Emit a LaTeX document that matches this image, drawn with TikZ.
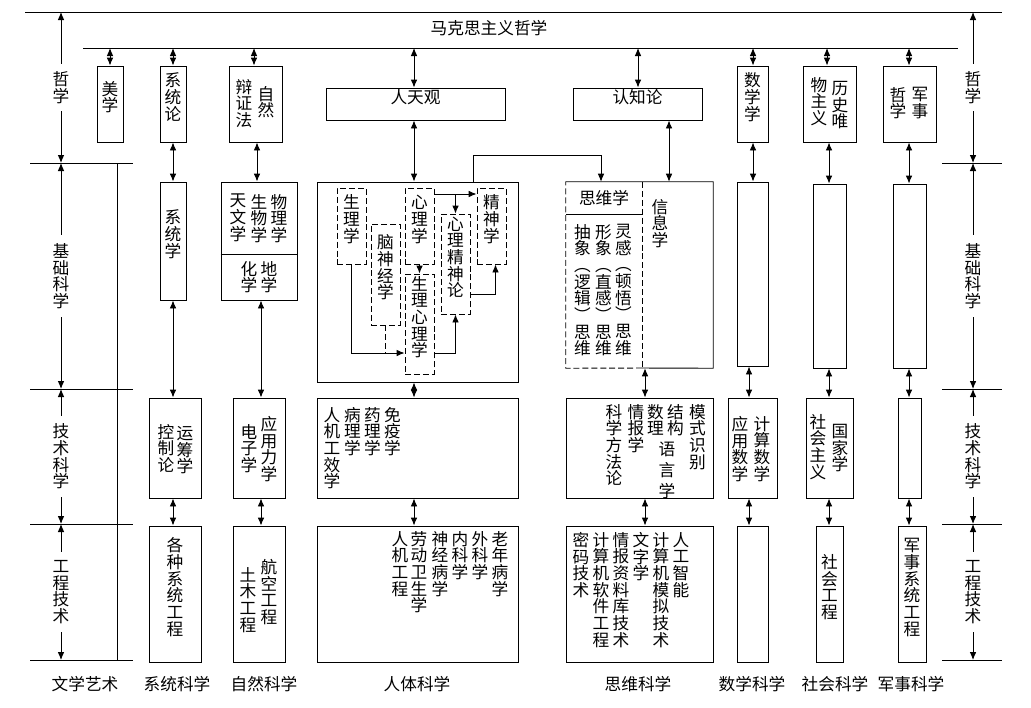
\documentclass[tikz,border=0pt]{standalone}
\usepackage{fontspec}
\setmainfont{Noto Sans CJK SC}
\usetikzlibrary{arrows.meta,fit,positioning}
\makeatletter
\newcommand{\vtext}[1]{\vt@a#1\vt@end}
\def\vt@a#1#2\vt@end{#1\ifx\relax#2\relax\else\\\vt@a#2\vt@end\fi}
\makeatother
\newcommand{\vtx}[1]{\expandafter\vtext\expandafter{#1}}
\newcommand{\zhfont}{\fontsize{12.5}{12.5}\selectfont\lineskiplimit=-20pt}
\tikzset{
  >={Latex[length=6pt,width=5pt]},
  rule/.style={line width=0.7pt},
  dline/.style={line width=0.7pt, dash pattern=on 4.5pt off 2.2pt},
  box/.style={draw, line width=0.7pt, inner sep=0pt},
  dbox/.style={box, dash pattern=on 4.5pt off 2.2pt},
  txt/.style={font=\zhfont, align=center, inner sep=0pt},
  col/.style={txt, anchor=north},
  axl/.style={txt, fill=white, inner xsep=2pt, inner ysep=6pt},
  flow/.style={->, line width=0.7pt},
  dflow/.style={<->, line width=0.7pt},
}
\begin{document}
\begin{tikzpicture}[x=0.75pt,y=-0.75pt]
\useasboundingbox (0,0) rectangle (1031,707);
% frame lines
\draw[rule] (25,12) -- (1002,12);
\node[txt] (mks) at (489,28) {马克思主义哲学};
\draw[rule] (83,48) -- (958,48);
\coordinate (bar) at (0,48);
\foreach \y in {163,389,524,660}{
  \draw[rule] (30,\y) -- (133,\y);
  \draw[rule] (942,\y) -- (1002,\y);
}
\draw[rule] (117,163) -- (117,660);
% side axes
\foreach \s/\x in {L/61,R/973}{
  \foreach \i/\y in {0/12,1/163,2/389,3/524,4/660}{\coordinate (\s\i) at (\x,\y);}
  \draw[dflow] (\s0) -- (\s1) node[axl,midway] (\s a) {\vtext{哲学}};
  \draw[dflow] (\s1) -- (\s2) node[axl,midway] (\s b) {\vtext{基础科学}};
  \draw[dflow] (\s2) -- (\s3) node[axl,midway] (\s c) {\vtext{技术科学}};
  \draw[dflow] (\s3) -- (\s4) node[axl,midway] (\s d) {\vtext{工程技术}};
}
% row 1: bridges
\node[box,txt,fit={(97,66)(123,142)}] (mx1) {\vtext{美学}};
\node[box,txt,fit={(160,66)(186,142)}] (xt1) {\vtext{系统论}};
\node[box,fit={(229,66)(282,142)}] (bz1) {};
\node[col] (bz1a) at (244,79) {\vtext{辩证法}};
\node[col] (bz1b) at (266,86) {\vtext{自然}};
\node[box,txt,fit={(326,88)(505,120)}] (rt1) {人天观};
\node[box,txt,fit={(573,88)(702,120)}] (rz1) {认知论};
\node[box,txt,fit={(737,66)(768,142)}] (sx1) {\vtext{数学学}};
\node[box,fit={(803,66)(856,142)}] (ls1) {};
\node[col] (ls1a) at (819,77) {\vtext{物主义}};
\node[col] (ls1b) at (840,81) {\vtext{历史唯}};
\node[box,fit={(883,66)(936,142)}] (js1) {};
\node[col] (js1a) at (898,87) {\vtext{哲学}};
\node[col] (js1b) at (920,87) {\vtext{军事}};
% row 2: basic sciences
\node[box,txt,fit={(160,182)(186,300)}] (xt2) {\vtext{系统学}};
\node[box,fit={(221,182)(297,300)}] (zr2) {};
\draw[rule] (zr2.west |- 0,254) -- (zr2.east |- 0,254);
\node[col] (zr2a) at (238,194) {\vtext{天文学}};
\node[col] (zr2b) at (259,194) {\vtext{生物学}};
\node[col] (zr2c) at (279,194) {\vtext{物理学}};
\node[col] (zr2d) at (249,261) {\vtext{化学}};
\node[col] (zr2e) at (269,261) {\vtext{地学}};
\node[box,fit={(317,182)(518,382)}] (rt2) {};
\node[dbox,txt,fit={(337,188)(366,264)}] (sl) {\vtext{生理学}};
\node[dbox,txt,fit={(371,224)(400,325)}] (nsj) {\vtext{脑神经学}};
\node[dbox,txt,fit={(405,188)(434,264)}] (xl) {\vtext{心理学}};
\node[dbox,txt,fit={(405,274)(434,374)}] (slxl) {\vtext{生理心理学}};
\node[dbox,txt,fit={(441,214)(470,314)}] (xljs) {\vtext{心理精神论}};
\node[dbox,txt,fit={(477,188)(506,264)}] (jsx) {\vtext{精神学}};
\draw[flow] (sl.south) |- (slxl.west |- 0,353);
\draw[dline] (nsj.south) -- (nsj.south |- 0,353);
\draw[flow] (xl.south) -- (slxl.north);
\draw[flow] (slxl.east |- 0,353) -| (xljs.south);
\draw[flow] (xljs.east |- 0,294) -| ([xshift=3pt]jsx.south);
\draw[flow] (xl.east |- 0,194) -- (jsx.west |- 0,194);
\draw[flow] (xljs.north |- 0,194) -- (xljs.north);
\node[fit={(566,182)(713,368)},inner sep=0pt] (sw2) {};
\draw[rule] (sw2.north west) -- (sw2.north east) -- (sw2.south east) -- (642,368);
\draw[dline] (642,368) -- (sw2.south west) -- (sw2.north west);
\draw[dline] (642,182) -- (642,368);
\draw[rule] (566,214) -- (642,214);
\node[txt] (swx) at (604,198) {思维学};
\node[col] (sw2a) at (582.5,224) {\vtext{抽象︵逻辑︶思维}};
\node[col] (sw2b) at (603.5,224) {\vtext{形象︵直感︶思维}};
\node[col] (sw2c) at (623.5,224) {\vtext{灵感︵顿悟︶思维}};
\node[col] (sw2d) at (660,199) {\vtext{信息学}};
\node[box,fit={(737,182)(768,366)}] (sx2) {};
\node[box,fit={(813,184)(846,368)}] (sh2) {};
\node[box,fit={(893,184)(926,368)}] (js2) {};
\coordinate (lk) at (0,155);
\draw[flow] (473,0 |- rt2.north) -- (473,0 |- lk) -| (601,0 |- sw2.north);
% row 3: technical sciences
\node[box,fit={(149,398)(201,498)}] (xt3) {};
\node[col] (xt3a) at (166,424) {\vtext{控制论}};
\node[col] (xt3b) at (185,426) {\vtext{运筹学}};
\node[box,fit={(233,398)(285,498)}] (zr3) {};
\node[col] (zr3a) at (249,424) {\vtext{电子学}};
\node[col] (zr3b) at (269,416) {\vtext{应用力学}};
\node[box,fit={(317,398)(518,498)}] (rt3) {};
\foreach \x/\t/\n in {332/人机工效学/a,352.5/病理学/b,372.5/药理学/c,392.5/免疫学/d}
  \node[col] (rt3\n) at (\x,407) {\vtx{\t}};
\node[box,fit={(566,398)(713,498)}] (sw3) {};
\foreach \x/\t/\n in {614/科学方法论/a,636/情报学/b,655.5/数理/c,675.5/结构/d,697.5/模式识别/e}
  \node[col] (sw3\n) at (\x,404) {\vtx{\t}};
\node[col] (sw3f) at (667,442) {语\\[3pt]言\\[3pt]学};
\node[box,fit={(728,398)(777,498)}] (sx3) {};
\node[col] (sx3a) at (740,416) {\vtext{应用数学}};
\node[col] (sx3b) at (762,416) {\vtext{计算数学}};
\node[box,fit={(806,398)(853,498)}] (sh3) {};
\node[col] (sh3a) at (818,414) {\vtext{社会主义}};
\node[col] (sh3b) at (840,424) {\vtext{国家学}};
\node[box,fit={(898,398)(921,498)}] (js3) {};
% row 4: engineering
\node[box,txt,fit={(149,526)(201,662)}] (xt4) {\vtext{各种系统工程}};
\node[box,fit={(233,526)(285,662)}] (zr4) {};
\node[col] (zr4a) at (248,567) {\vtext{土木工程}};
\node[col] (zr4b) at (269,559) {\vtext{航空工程}};
\node[box,fit={(317,526)(518,662)}] (rt4) {};
\foreach \x/\t/\n in {400/人机工程/a,419/劳动卫生学/b,440/神经病学/c,460/内科学/d,480/外科学/e,500/老年病学/f}
  \node[col] (rt4\n) at (\x,531) {\vtx{\t}};
\node[box,fit={(566,526)(713,662)}] (sw4) {};
\foreach \x/\t/\n in {581/密码技术/a,601/计算机软件工程/b,621/情报资料库技术/c,641/文字学/d,661/计算机模拟技术/e,681/人工智能/f}
  \node[col] (sw4\n) at (\x,532) {\vtx{\t}};
\node[box,fit={(737,526)(768,662)}] (sx4) {};
\node[box,txt,fit={(816,526)(843,662)}] (sh4) {\vtext{社会工程}};
\node[box,txt,fit={(898,526)(926,662)}] (js4) {\vtext{军事系统工程}};
% links
\foreach \x/\a in {110/mx1,173/xt1,254/bz1,414/rt1,638/rz1,753/sx1,827/ls1,909/js1}
  \draw[dflow] (\x,0 |- bar) -- (\x,0 |- \a.north);
\foreach \x/\a/\b in {173/xt1/xt2,257/bz1/zr2,414/rt1/rt2,669/rz1/sw2,753/sx1/sx2,829/ls1/sh2,909/js1/js2,
                      173/xt2/xt3,261/zr2/zr3,414/rt2/rt3,645/sw2/sw3,749/sx2/sx3,829/sh2/sh3,909/js2/js3,
                      173/xt3/xt4,261/zr3/zr4,414/rt3/rt4,645/sw3/sw4,749/sx3/sx4,829/sh3/sh4,909/js3/js4}
  \draw[dflow] (\x,0 |- \a.south) -- (\x,0 |- \b.north);
% column names
\foreach \x/\t/\n in {85/文学艺术/wx,177/系统科学/xt,264/自然科学/zr,417/人体科学/rt,638/思维科学/sw,752/数学科学/sx,835/社会科学/sh,911/军事科学/js}
  \node[txt] (\n0) at (\x,684) {\t};
\end{tikzpicture}
\end{document}
